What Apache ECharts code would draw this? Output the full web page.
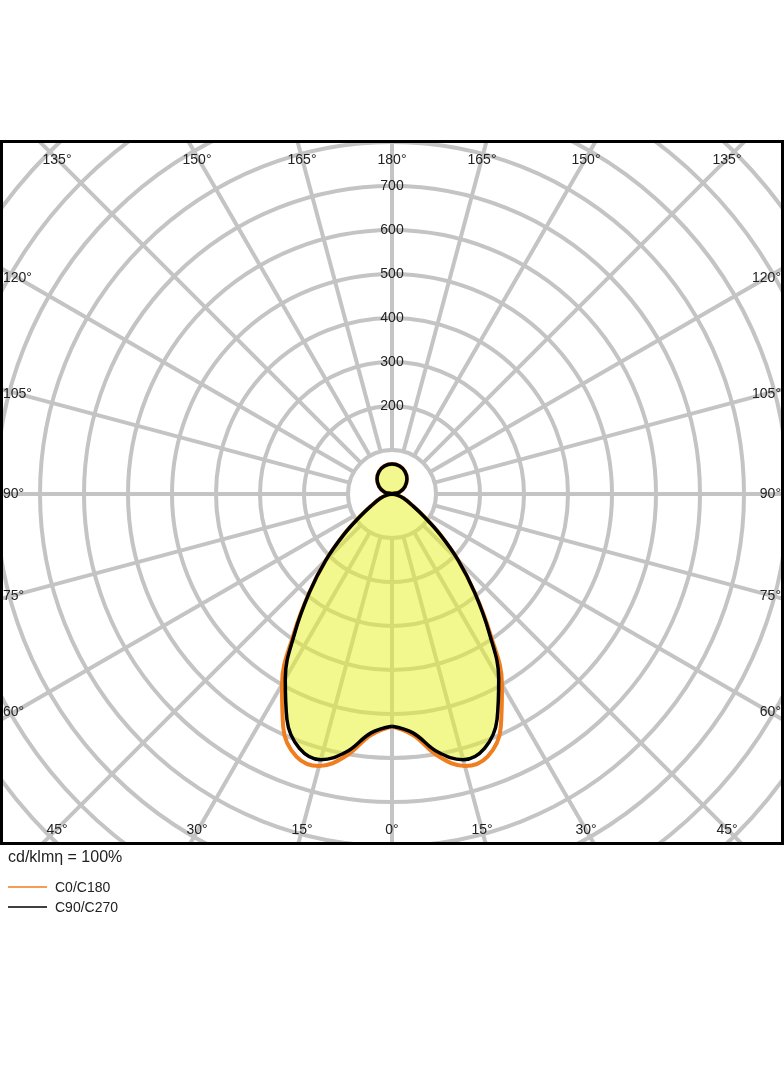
<!DOCTYPE html>
<html>
<head>
<meta charset="utf-8">
<script src="https://cdn.jsdelivr.net/npm/echarts@6/dist/echarts.min.js"></script>
<style>
  body { margin: 0; background: #fff; }
  #page { position: absolute; left: 0; top: 0; width: 784px; height: 1066px; }
  #clip { position: absolute; left: 2px; top: 142px; width: 780px; height: 701px; overflow: hidden; }
  #polar { position: absolute; left: -160px; top: -198px; width: 1100px; height: 1100px; }
  #frame { position: absolute; left: 0; top: 140px; width: 778px; height: 699px; border: 3px solid #000; }
</style>
</head>
<body>
<div id="clip"><div id="polar"></div></div>
<div id="page"></div>
<div id="frame"></div>
<script>
// gamma angles (degrees) and intensities (cd/klm)
const gammas   = [0, 5, 10, 15, 20, 25, 30, 35, 40, 45, 50, 55, 60, 70, 80, 90, 105, 120, 135, 150, 165, 180];
const c90c270  = [528, 545, 595, 625, 615, 565, 485, 385, 292, 212, 142, 88, 56, 28, 10, 0, 18, 34, 48, 59, 66, 68];
const c0c180   = [528, 550, 605, 640, 635, 585, 500, 390, 292, 212, 142, 88, 56, 28, 10, 0, 18, 34, 48, 59, 66, 68];
const radiusTicks = [200, 300, 400, 500, 600, 700];
const topLabels = ['135°', '150°', '165°', '180°', '165°', '150°', '135°'];
const bottomLabels = ['45°', '30°', '15°', '0°', '15°', '30°', '45°'];
const sideLabels = ['120°', '105°', '90°', '75°', '60°'];

const labelX = [57, 197, 302, 392, 482, 586, 727];
const sideY = [278, 394, 494, 596, 712];

// full closed curve: right side then left side mirrored
function curve(vals) {
  const pts = gammas.map((g, i) => [vals[i], g]);
  for (let i = gammas.length - 2; i >= 0; i--) pts.push([vals[i], 360 - gammas[i]]);
  return pts;
}

const spokes = [];
for (let a = 0; a < 360; a += 15) {
  spokes.push({
    type: 'line', coordinateSystem: 'polar', silent: true, symbol: 'none', z: 1,
    lineStyle: { color: '#c4c4c4', width: 4 },
    data: [[100, a], [1250, a]]
  });
}

const polar = echarts.init(document.getElementById('polar'));
polar.setOption({
  animation: false,
  polar: { center: ['50%', '50%'], radius: 550 },
  angleAxis: {
    type: 'value', min: 0, max: 360, startAngle: 270, clockwise: false,
    axisLine: { show: false }, axisTick: { show: false }, axisLabel: { show: false },
    splitLine: { show: false }
  },
  radiusAxis: {
    type: 'value', min: 0, max: 1250, interval: 100,
    axisLine: { show: false }, axisTick: { show: false }, axisLabel: { show: false },
    splitLine: { show: true, lineStyle: { color: '#c4c4c4', width: 4 } }
  },
  series: spokes.concat([
    {
      type: 'line', coordinateSystem: 'polar', symbol: 'none', z: 3, smooth: 0.4,
      data: curve(c0c180),
      lineStyle: { color: '#f07d1e', width: 4 }
    },
    {
      type: 'line', coordinateSystem: 'polar', symbol: 'none', z: 4, smooth: 0.4,
      data: curve(c90c270),
      lineStyle: { color: '#000', width: 3.5 },
      areaStyle: { color: 'rgba(232,242,40,0.75)', origin: 'start' }
    }
  ])
});

const page = echarts.init(document.getElementById('page'));
const font = 'Liberation Sans, Arial, sans-serif';
const txt = (x, y, text, size, align) => ({
  type: 'text', x: x, y: y, z: 10,
  style: { text: text, fill: '#222', font: size + 'px ' + font, align: align || 'center', verticalAlign: 'middle' }
});
const els = [];
labelX.forEach((x, i) => {
  els.push(txt(x, 160, topLabels[i], 14));
  els.push(txt(x, 830, bottomLabels[i], 14));
});
sideY.forEach((y, i) => {
  els.push(txt(3, y, sideLabels[i], 14, 'left'));
  els.push(txt(781, y, sideLabels[i], 14, 'right'));
});
radiusTicks.forEach(v => els.push(txt(392, 494 - 0.44 * v, String(v), 14)));
els.push(txt(8, 858, 'cd/klmη = 100%', 16, 'left'));
els.push({ type: 'line', shape: { x1: 8, y1: 887, x2: 47, y2: 887 }, style: { stroke: '#f07d1e', lineWidth: 1.5 } });
els.push(txt(55, 888, 'C0/C180', 14, 'left'));
els.push({ type: 'line', shape: { x1: 8, y1: 907, x2: 47, y2: 907 }, style: { stroke: '#000', lineWidth: 1.5 } });
els.push(txt(55, 908, 'C90/C270', 14, 'left'));
page.setOption({ animation: false, graphic: { elements: els } });
</script>
</body>
</html>
